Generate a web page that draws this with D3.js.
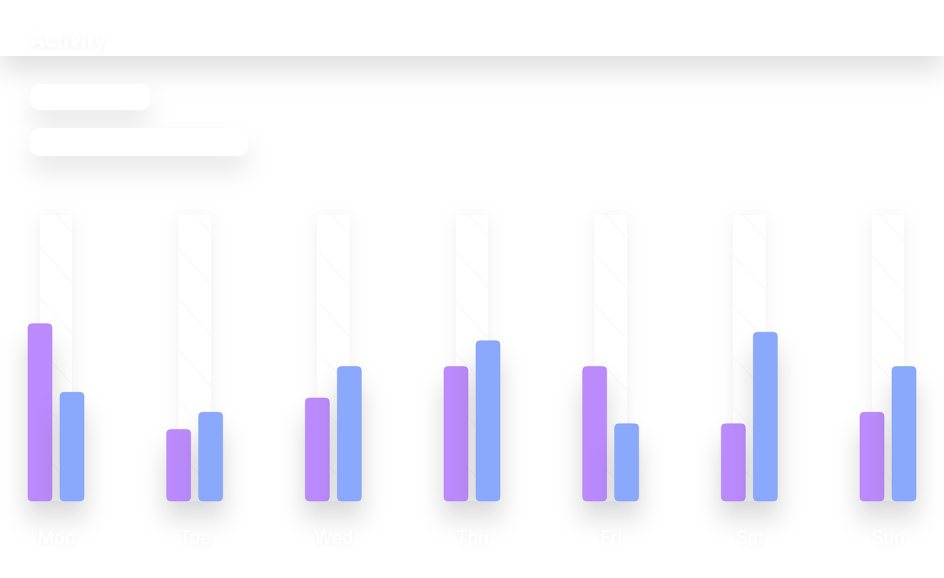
<!DOCTYPE html>
<html><head><meta charset="utf-8">
<script src="https://cdn.jsdelivr.net/npm/d3@7"></script>
<style>html,body{margin:0;padding:0;background:#fff;overflow:hidden}svg{display:block}</style>
</head><body>
<script>
const days = ["Mon","Tue","Wed","Thu","Fri","Sat","Sun"];
const seriesNames = ["Focus","Meetings"];
const focusValues = [62,25,36,47,47,27,31];
const meetingValues = [38,31,47,56,27,59,47];
const titleText = "Activity";
const legendLabels = ["Focus hours","Meetings per day"];
const colors = ["#bb8bfd","#8aa9fc"];
const strokes = ["#a977f0","#7896ee"];

const W = 944, H = 578;
const svg = d3.select("body").append("svg").attr("width",W).attr("height",H);
const defs = svg.append("defs");
function shadow(id, sd, dy, op){
  const f = defs.append("filter").attr("id",id).attr("filterUnits","userSpaceOnUse")
    .attr("x",-100).attr("y",-100).attr("width",W+200).attr("height",H+200);
  f.append("feDropShadow").attr("dx",0).attr("dy",dy).attr("stdDeviation",sd).attr("flood-color","#000").attr("flood-opacity",op);
}
shadow("hdr",14,14,0.13);
shadow("pill",12,16,0.09);
shadow("col",9,2,0.06);
shadow("bar",13,18,0.16);
shadow("txt",2.5,2,0.05);
const pat = defs.append("pattern").attr("id","hatch").attr("patternUnits","userSpaceOnUse")
  .attr("width",34).attr("height",34).attr("patternTransform","rotate(-42)");
pat.append("rect").attr("width",34).attr("height",34).attr("fill","#fff");
pat.append("line").attr("x1",0).attr("y1",0).attr("x2",0).attr("y2",34).attr("stroke","#f2f2f2").attr("stroke-width",1.2);

const x = d3.scalePoint().domain(days).range([56,888]);
const x1 = d3.scaleBand().domain(seriesNames).range([-28,28]).paddingInner(0.25);
const y = d3.scaleLinear().domain([0,100]).range([501,215]);

// header
svg.append("rect").attr("x",0).attr("y",0).attr("width",W).attr("height",56).attr("fill","#fff").attr("filter","url(#hdr)");
svg.append("text").attr("x",30).attr("y",47).attr("fill","#fff").attr("font-family","Inter, sans-serif")
  .attr("font-size",20).attr("font-weight",700).attr("filter","url(#txt)").text(titleText);

// legend pills
const pillW = [120,218], pillY = [84,128], pillH = [26,28];
const lg = svg.append("g");
legendLabels.forEach((l,i)=>{
  lg.append("rect").attr("x",30).attr("y",pillY[i]).attr("width",pillW[i]).attr("height",pillH[i]).attr("rx",10)
    .attr("fill","#fff").attr("filter","url(#pill)");
  lg.append("text").attr("x",42).attr("y",pillY[i]+pillH[i]/2+5).attr("fill","#fff")
    .attr("font-family","Inter, sans-serif").attr("font-size",13).text(l);
});

const data = days.map((d,i)=>({day:d, vals:[focusValues[i], meetingValues[i]]}));

// background columns
svg.append("g").selectAll("rect").data(data).join("rect")
  .attr("x",d=>x(d.day)-16).attr("width",32)
  .attr("y",y(100)).attr("height",y(0)-y(100))
  .attr("fill","url(#hatch)").attr("filter","url(#col)");

// bars
const g = svg.append("g").selectAll("g").data(data).join("g").attr("transform",d=>`translate(${x(d.day)},0)`);
g.selectAll("rect").data(d=>d.vals.map((v,j)=>({v,j}))).join("rect")
  .attr("x",d=>x1(seriesNames[d.j])).attr("width",x1.bandwidth())
  .attr("y",d=>y(d.v)).attr("height",d=>y(0)-y(d.v)).attr("rx",4)
  .attr("fill",d=>colors[d.j]).attr("stroke",d=>strokes[d.j]).attr("stroke-opacity",0.5).attr("stroke-width",1)
  .attr("filter","url(#bar)");

// x axis labels
const ax = svg.append("g").attr("transform","translate(0,501)").call(d3.axisBottom(x).tickSize(0).tickPadding(30));
ax.select(".domain").remove();
ax.selectAll("text").attr("fill","#fff").attr("font-family","Inter, sans-serif").attr("font-size",18).attr("filter","url(#txt)");
</script>
</body></html>
